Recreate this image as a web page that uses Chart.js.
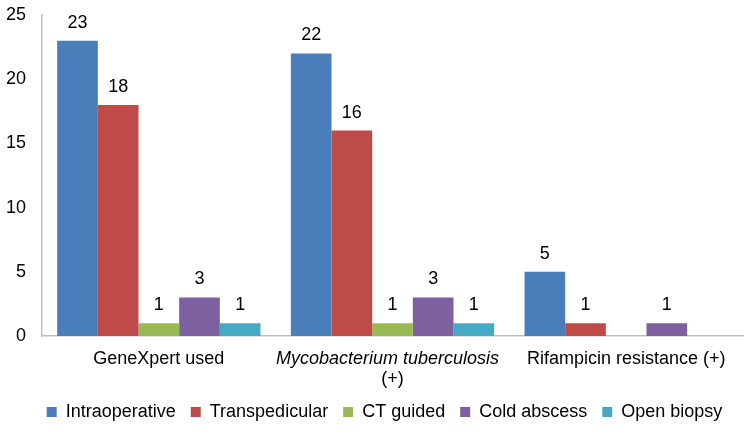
<!DOCTYPE html>
<html><head><meta charset="utf-8">
<script src="https://cdn.jsdelivr.net/npm/chart.js@4.4.0/dist/chart.umd.min.js"></script>
<style>html,body{margin:0;padding:0;background:#fff}#wrap{width:750px;height:432px}</style>
</head><body><div id="wrap"><canvas id="c" width="750" height="432"></canvas></div>
<script>
const categories = ['GeneXpert used', 'Mycobacterium tuberculosis (+)', 'Rifampicin resistance (+)'];
const seriesNames = ['Intraoperative', 'Transpedicular', 'CT guided', 'Cold abscess', 'Open biopsy'];
const intraoperative = [23, 22, 5];
const transpedicular = [18, 16, 1];
const ctGuided = [1, 1, null];
const coldAbscess = [3, 3, 1];
const openBiopsy = [1, 1, null];
const yTicks = [0, 5, 10, 15, 20, 25];
const colors = ['#4A7EBB', '#BE4B48', '#98B954', '#7D60A0', '#46AAC5'];

const FONT = '"Liberation Sans", Arial, sans-serif';
const seriesValues = [intraoperative, transpedicular, ctGuided, coldAbscess, openBiopsy];

const valueLabels = {
  id: 'valueLabels',
  afterDatasetsDraw(chart) {
    const ctx = chart.ctx;
    ctx.save();
    ctx.font = '18px ' + FONT;
    ctx.fillStyle = '#000';
    ctx.textAlign = 'center';
    ctx.textBaseline = 'middle';
    chart.data.datasets.forEach((ds, di) => {
      const meta = chart.getDatasetMeta(di);
      meta.data.forEach((el, i) => {
        const v = ds.data[i];
        if (v === null || v === undefined) return;
        ctx.fillText(String(v), el.x, el.y - 18);
      });
    });
    ctx.restore();
  }
};

const xLabels = {
  id: 'xLabels',
  afterDraw(chart) {
    const ctx = chart.ctx;
    const xs = chart.scales.x;
    const top = xs.top;
    ctx.save();
    ctx.fillStyle = '#000';
    ctx.textAlign = 'center';
    ctx.textBaseline = 'middle';
    const lines = [
      [{t: 'GeneXpert used', it: false}],
      [{t: 'Mycobacterium tuberculosis', it: true}, {t: '(+)', it: false}],
      [{t: 'Rifampicin resistance (+)', it: false}]
    ];
    lines.forEach((ls, i) => {
      const x = xs.getPixelForValue(i);
      ls.forEach((l, j) => {
        ctx.font = (l.it ? 'italic ' : '') + '18px ' + FONT;
        ctx.fillText(l.t, x + (j === 0 && l.it ? -5 : 0), top + 23 + j * 20);
      });
    });
    ctx.restore();
  }
};

const legendShift = {
  id: 'legendShift',
  afterLayout(chart) {
    if (chart.legend) { chart.legend.left += 13; chart.legend.right += 13; }
  }
};

new Chart(document.getElementById('c'), {
  type: 'bar',
  data: {
    labels: categories,
    datasets: seriesNames.map((n, i) => ({
      label: n,
      data: seriesValues[i],
      backgroundColor: colors[i],
      borderWidth: 0,
      categoryPercentage: 0.87,
      barPercentage: 1.0
    }))
  },
  options: {
    responsive: false,
    animation: false,
    layout: {padding: {top: 15, right: 7, bottom: 1, left: 0}},
    plugins: {
      legend: {
        position: 'bottom',
        labels: {
          font: {size: 18, family: FONT},
          color: '#000',
          boxWidth: 10,
          boxHeight: 10,
          padding: 15
        }
      },
      tooltip: {enabled: false}
    },
    scales: {
      x: {
        grid: {display: false},
        border: {display: true, color: '#bfbfbf', width: 1.5},
        ticks: {display: false},
        afterFit: s => { s.height = 52; }
      },
      y: {
        min: 0, max: 25,
        afterBuildTicks: s => { s.ticks = yTicks.map(v => ({value: v})); },
        grid: {display: false, drawTicks: false},
        border: {display: true, color: '#bfbfbf', width: 1.5},
        ticks: {font: {size: 18, family: FONT}, color: '#000', padding: 16},
        afterFit: s => { s.width = 42; s.paddingTop = 0; s.paddingBottom = 0; }
      }
    }
  },
  plugins: [valueLabels, xLabels, legendShift]
});
</script></body></html>
